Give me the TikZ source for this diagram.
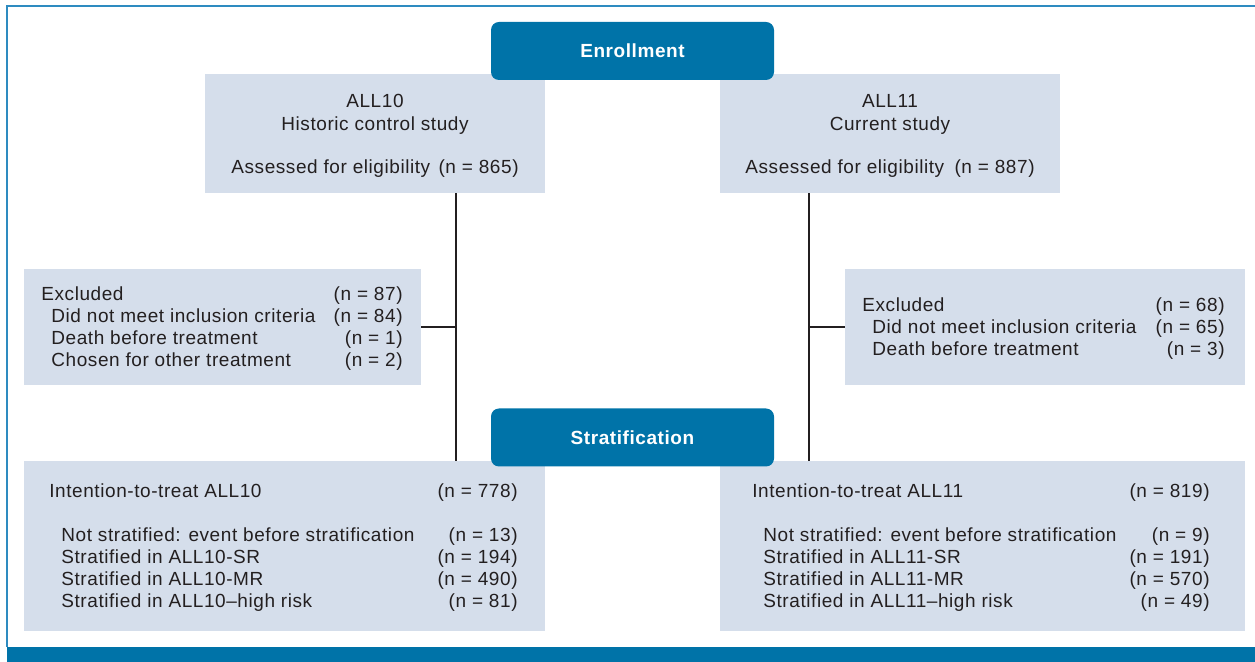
\documentclass[tikz,border=0pt]{standalone}
\usepackage{fontspec}
\setmainfont{Liberation Sans}[LetterSpace=3]
\usetikzlibrary{positioning}
\definecolor{coblue}{HTML}{0073A8}
\definecolor{copale}{HTML}{D5DEEB}
\definecolor{coframe}{HTML}{2E8BC0}
\definecolor{coline}{HTML}{231F20}
\definecolor{cotext}{HTML}{231F20}

\begin{document}
\begin{tikzpicture}[x=0.5pt,y=-0.5pt,
		txt/.style={inner sep=0pt,text height=6.8pt,text depth=0pt,text=cotext,font=\fontsize{9.5}{11}\selectfont},
		lft/.style={txt,anchor=west},
		rgt/.style={txt,anchor=east},
		pale/.style={fill=copale,inner sep=0pt},
		phase/.style={fill=coblue,rounded corners=4pt,inner sep=0pt,minimum width=141.5pt,minimum height=29pt,text=white,font=\bfseries\fontsize{9.5}{11}\selectfont},
		link/.style={draw=coline,line width=1.4pt}]
		\useasboundingbox (0,0) rectangle (1255,662);
		% frame and bottom bar
		\draw[coframe,line width=1pt] (7,647) -- (7,6) -- (1255,6);
		\fill[coblue] (7,647) rectangle (1255,662);
		
		% pale boxes
		\node[pale,minimum width=170pt,minimum height=59.5pt] (all10) at (375,133.5) {};
		\node[pale,minimum width=170pt,minimum height=59.5pt] (all11) at (890,133.5) {};
		\node[pale,minimum width=198.5pt,minimum height=58pt] (excl10) at (222.5,327) {};
		\node[pale,minimum width=200pt,minimum height=58pt] (excl11) at (1045,327) {};
		\node[pale,minimum width=260.5pt,minimum height=85pt] (itt10) at (284.5,546) {};
		\node[pale,minimum width=262.5pt,minimum height=85pt] (itt11) at (982.5,546) {};
		
		% phase boxes
		\node[phase] (enroll) at (632.5,51) {Enrollment};
		\node[phase] (strat) at (632.5,437.5) {Stratification};
		
		% connectors
		\coordinate (spine10) at (456,193);
		\coordinate (spine11) at (809,193);
		\draw[link] (all10.south -| spine10) -- (itt10.north -| spine10);
		\draw[link] (excl10.east) -- (excl10.east -| spine10);
		\draw[link] (all11.south -| spine11) -- (itt11.north -| spine11);
		\draw[link] (excl11.west) -- (excl11.west -| spine11);
		
		% ALL10
		\node[txt] (all10t) at (375,101) {ALL10};
		\node[txt] (all10s) at (375,124) {Historic control study};
		\node[lft] (all10a) at (231,167) {Assessed for eligibility};
		\node[rgt] (all10n) at (519,167) {(n = 865)};
		
		% ALL11
		\node[txt] (all11t) at (890,101) {ALL11};
		\node[txt] (all11s) at (890,124) {Current study};
		\node[lft] (all11a) at (745,167) {Assessed for eligibility};
		\node[rgt] (all11n) at (1035,167) {(n = 887)};
		
		% excluded ALL10
		\node[lft] (ex10a) at (41,294) {Excluded};
		\node[rgt] (ex10an) at (403,294) {(n = 87)};
		\node[lft] (ex10b) at (51,316) {Did not meet inclusion criteria};
		\node[rgt] (ex10bn) at (403,316) {(n = 84)};
		\node[lft] (ex10c) at (51,338) {Death before treatment};
		\node[rgt] (ex10cn) at (403,338) {(n = 1)};
		\node[lft] (ex10d) at (51,360) {Chosen for other treatment};
		\node[rgt] (ex10dn) at (403,360) {(n = 2)};
		
		% excluded ALL11
		\node[lft] (ex11a) at (862,305) {Excluded};
		\node[rgt] (ex11an) at (1225,305) {(n = 68)};
		\node[lft] (ex11b) at (872,327) {Did not meet inclusion criteria};
		\node[rgt] (ex11bn) at (1225,327) {(n = 65)};
		\node[lft] (ex11c) at (872,349) {Death before treatment};
		\node[rgt] (ex11cn) at (1225,349) {(n = 3)};
		
		% intention-to-treat ALL10
		\node[lft] (itt10a) at (49,491) {Intention-to-treat ALL10};
		\node[rgt] (itt10an) at (518,491) {(n = 778)};
		\node[lft] (itt10b) at (61,535) {Not stratified: event before stratification};
		\node[rgt] (itt10bn) at (518,535) {(n = 13)};
		\node[lft] (itt10c) at (61,557) {Stratified in ALL10-SR};
		\node[rgt] (itt10cn) at (518,557) {(n = 194)};
		\node[lft] (itt10d) at (61,579) {Stratified in ALL10-MR};
		\node[rgt] (itt10dn) at (518,579) {(n = 490)};
		\node[lft] (itt10e) at (61,601) {Stratified in ALL10–high risk};
		\node[rgt] (itt10en) at (518,601) {(n = 81)};
		
		% intention-to-treat ALL11
		\node[lft] (itt11a) at (752,491) {Intention-to-treat ALL11};
		\node[rgt] (itt11an) at (1210,491) {(n = 819)};
		\node[lft] (itt11b) at (763,535) {Not stratified: event before stratification};
		\node[rgt] (itt11bn) at (1210,535) {(n = 9)};
		\node[lft] (itt11c) at (763,557) {Stratified in ALL11-SR};
		\node[rgt] (itt11cn) at (1210,557) {(n = 191)};
		\node[lft] (itt11d) at (763,579) {Stratified in ALL11-MR};
		\node[rgt] (itt11dn) at (1210,579) {(n = 570)};
		\node[lft] (itt11e) at (763,601) {Stratified in ALL11–high risk};
		\node[rgt] (itt11en) at (1210,601) {(n = 49)};
	\end{tikzpicture}
\end{document}
